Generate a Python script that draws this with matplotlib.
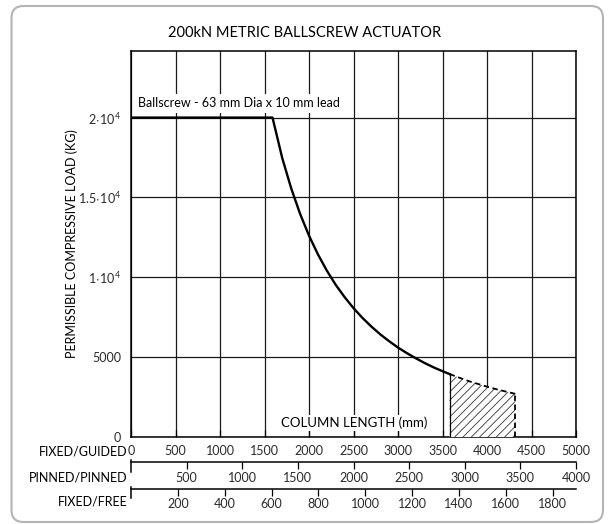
import matplotlib
matplotlib.use("Agg")
import matplotlib.pyplot as plt
from matplotlib.patches import FancyBboxPatch
from matplotlib.transforms import IdentityTransform

# Permissible load vs column length (fixed/guided length, mm -> kg)
length_mm = [0, 1590, 1700, 1800, 1900, 2000, 2100, 2200, 2300, 2400, 2500,
             2600, 2700, 2800, 2900, 3000, 3100, 3200, 3300, 3400, 3500, 3580]
load_kg = [20000, 20000, 17450, 15570, 13970, 12610, 11440, 10420, 9530, 8760, 8070,
           7460, 6920, 6430, 6000, 5600, 5250, 4930, 4630, 4360, 4120, 3940]

# Extended (hatched) zone
ext_len = [3580, 3700, 3800, 3900, 4000, 4100, 4200, 4320]
ext_load = [3940, 3690, 3490, 3320, 3150, 3000, 2860, 2700]

x_ticks = [0, 500, 1000, 1500, 2000, 2500, 3000, 3500, 4000, 4500, 5000]
y_ticks = [0, 5000, 10000, 15000, 20000]
y_labels = ["0", "5000", r"$\mathregular{1\!\cdot\!10^{4}}$",
            r"$\mathregular{1.5\!\cdot\!10^{4}}$", r"$\mathregular{2\!\cdot\!10^{4}}$"]

pinned_ticks = [500, 1000, 1500, 2000, 2500, 3000, 3500, 4000]
free_ticks = [200, 400, 600, 800, 1000, 1200, 1400, 1600, 1800]

W, H = 610, 524
plt.rcParams['font.family'] = ['Lato', 'DejaVu Sans']
plt.rcParams['mathtext.fontset'] = 'custom'
plt.rcParams['mathtext.rm'] = 'Lato'
plt.rcParams['hatch.linewidth'] = 0.6
TXT = "#2a2a2a"


def box(l, t, r, b):
    return [l / W, 1 - b / H, (r - l) / W, (b - t) / H]


fig = plt.figure(figsize=(W / 100, H / 100), dpi=100)

ax = fig.add_axes(box(131, 50.5, 576, 437))
ax.set_xlim(0, 5000)
ax.set_ylim(0, 24200)
ax.set_xticks(x_ticks)
ax.set_xticklabels([str(v) for v in x_ticks])
ax.set_yticks(y_ticks)
ax.set_yticklabels(y_labels)
ax.tick_params(axis='x', direction='in', length=5, width=0.9, pad=6,
               labelsize=9, labelcolor=TXT)
ax.tick_params(axis='y', length=0, pad=7, labelsize=9, labelcolor=TXT)
ax.grid(True, color="#1a1a1a", lw=0.9)
ax.set_axisbelow(True)
for s in ax.spines.values():
    s.set_linewidth(1.1)

ax.plot(length_mm, load_kg, color="black", lw=1.7, zorder=4)

ax.fill_between(ext_len, ext_load, 0, facecolor="white", edgecolor="#333333",
                hatch="////", lw=0, zorder=3)
ax.plot(ext_len, ext_load, color="black", lw=1.3, ls=(0, (3, 2)), zorder=4)
ax.plot([ext_len[-1], ext_len[-1]], [0, ext_load[-1]], color="black", lw=1.3,
        ls=(0, (3, 2)), zorder=4)
ax.plot([ext_len[0], ext_len[0]], [0, ext_load[0]], color="black", lw=0.9, zorder=4)

ax.text(79, 20900, "Ballscrew - 63 mm Dia x 10 mm lead", fontsize=9, color="black",
        ha="left", va="center", zorder=5,
        bbox=dict(facecolor="white", edgecolor="none", pad=2.5))
ax.text(2506, 875, "COLUMN LENGTH (mm)", fontsize=9.5, color="black",
        ha="center", va="center", zorder=5,
        bbox=dict(facecolor="white", edgecolor="none", pad=1.5))


def scale_axis(top, bottom, xmax, ticks):
    sub = fig.add_axes(box(131, top, 576, bottom))
    sub.set_xlim(0, xmax)
    sub.set_ylim(0, 1)
    sub.patch.set_visible(False)
    sub.spines['right'].set_visible(False)
    sub.spines['bottom'].set_visible(False)
    sub.spines['top'].set_linewidth(1.1)
    sub.spines['left'].set_linewidth(1.1)
    sub.spines['left'].set_bounds(0, 1.2)
    sub.set_yticks([])
    sub.set_xticks(ticks)
    sub.set_xticklabels([str(v) for v in ticks])
    sub.tick_params(axis='x', top=True, bottom=False, labeltop=False, labelbottom=True,
                    direction='in', length=5, width=0.9, pad=0,
                    labelsize=9, labelcolor=TXT)
    return sub


scale_axis(462, 472, 4000, pinned_ticks)
scale_axis(489, 498, 1900, free_ticks)

for label, y in (("FIXED/GUIDED", 452), ("PINNED/PINNED", 477), ("FIXED/FREE", 502)):
    fig.text(128 / W, 1 - y / H, label, fontsize=9, color="black", ha="right", va="center")

fig.text(305 / W, 1 - 33 / H, "200kN METRIC BALLSCREW ACTUATOR", fontsize=10.5,
         color="black", ha="center", va="center")
fig.text(72 / W, 1 - 243.5 / H, "PERMISSIBLE COMPRESSIVE LOAD (KG)", fontsize=9,
         color="black", ha="center", va="center", rotation=90)

frame = FancyBboxPatch((11.5, 2), 591.5, 516, boxstyle="round,pad=0,rounding_size=12",
                       transform=IdentityTransform(), facecolor="none",
                       edgecolor="#b4b4b4", lw=1.5)
fig.add_artist(frame)

fig.savefig("out.png", dpi=100)
